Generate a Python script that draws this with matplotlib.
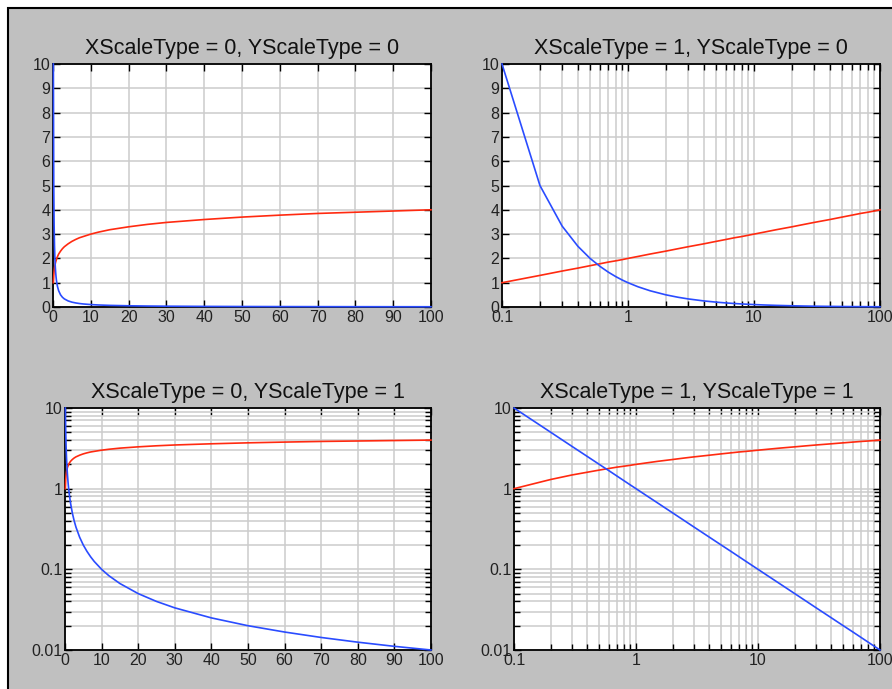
import matplotlib
matplotlib.use('Agg')
import matplotlib.pyplot as plt
from matplotlib.patches import Rectangle
from matplotlib.ticker import LogLocator, FixedLocator, FuncFormatter, NullFormatter

plt.rcParams['font.family'] = ['Liberation Sans', 'DejaVu Sans']

# sample points
x = [0.1, 0.2, 0.3, 0.4, 0.5, 0.6, 0.7, 0.8, 0.9, 1, 1.2, 1.5, 2, 2.5, 3, 4, 5, 6, 7, 8,
     10, 12, 15, 20, 25, 30, 40, 50, 60, 70, 80, 90, 100]
blue = [10, 5, 3.33, 2.5, 2, 1.67, 1.43, 1.25, 1.11, 1, 0.833, 0.667, 0.5, 0.4, 0.333,
        0.25, 0.2, 0.167, 0.143, 0.125, 0.1, 0.0833, 0.0667, 0.05, 0.04, 0.0333, 0.025,
        0.02, 0.0167, 0.0143, 0.0125, 0.0111, 0.01]
red = [1.00, 1.30, 1.48, 1.60, 1.70, 1.78, 1.85, 1.90, 1.95, 2.00, 2.08, 2.18, 2.30,
       2.40, 2.48, 2.60, 2.70, 2.78, 2.85, 2.90, 3.00, 3.08, 3.18, 3.30, 3.40, 3.48,
       3.60, 3.70, 3.78, 3.85, 3.90, 3.95, 4.00]

lin_x_ticks = [0, 10, 20, 30, 40, 50, 60, 70, 80, 90, 100]
lin_y_ticks = [0, 1, 2, 3, 4, 5, 6, 7, 8, 9, 10]
log_x_ticks = [0.1, 1, 10, 100]
log_y_ticks = [0.01, 0.1, 1, 10]

W, H = 892, 689
fig = plt.figure(figsize=(W / 100, H / 100), dpi=100, facecolor='white')
bg = Rectangle((8 / W, -0.01), 1, 1 - 8 / H + 0.01, transform=fig.transFigure,
               facecolor='#c0c0c0', edgecolor='black', linewidth=1.5, zorder=-10)
fig.patches.append(bg)

# (left, top, right, bottom) in pixels
boxes = [(53, 64, 431, 307), (502, 64, 880, 307), (65, 408, 431, 650), (514, 408, 880, 650)]
plain = FuncFormatter(lambda v, p: ('%g' % v))


def place(box):
    l, t, r, b = box
    return fig.add_axes([l / W, 1 - b / H, (r - l) / W, (b - t) / H])


for i, box in enumerate(boxes):
    xs = i % 2
    ys = i // 2
    ax = place(box)
    ax.set_facecolor('white')
    ax.set_title('XScaleType = %d, YScaleType = %d' % (xs, ys), fontsize=15.5, pad=7, color='#111111')

    if xs:
        ax.set_xscale('log')
        ax.set_xlim(0.1, 100)
        ax.xaxis.set_major_locator(FixedLocator(log_x_ticks))
        ax.xaxis.set_minor_locator(LogLocator(base=10, subs=range(2, 10)))
        ax.xaxis.set_major_formatter(plain)
        ax.xaxis.set_minor_formatter(NullFormatter())
    else:
        ax.set_xlim(0, 100)
        ax.set_xticks(lin_x_ticks)

    if ys:
        ax.set_yscale('log')
        ax.set_ylim(0.01, 10)
        ax.yaxis.set_major_locator(FixedLocator(log_y_ticks))
        ax.yaxis.set_minor_locator(LogLocator(base=10, subs=range(2, 10)))
        ax.yaxis.set_major_formatter(plain)
        ax.yaxis.set_minor_formatter(NullFormatter())
    else:
        ax.set_ylim(0, 10)
        ax.set_yticks(lin_y_ticks)

    ax.grid(True, which='both', color='#cccccc', linewidth=1.1)
    ax.set_axisbelow(True)
    ax.tick_params(which='both', direction='in', top=True, right=True, length=5, width=1,
                   labelsize=11.5, labelcolor='#222222', pad=2)
    ax.tick_params(which='minor', length=4)
    for s in ax.spines.values():
        s.set_linewidth(1.3)
        s.set_zorder(2)

    ax.plot(x, red, color='#ff2a10', linewidth=1.2, zorder=3, clip_on=False)
    ax.plot(x, blue, color='#2a4cff', linewidth=1.2, zorder=3, clip_on=False)

fig.savefig('out.png', dpi=100, facecolor='white')
